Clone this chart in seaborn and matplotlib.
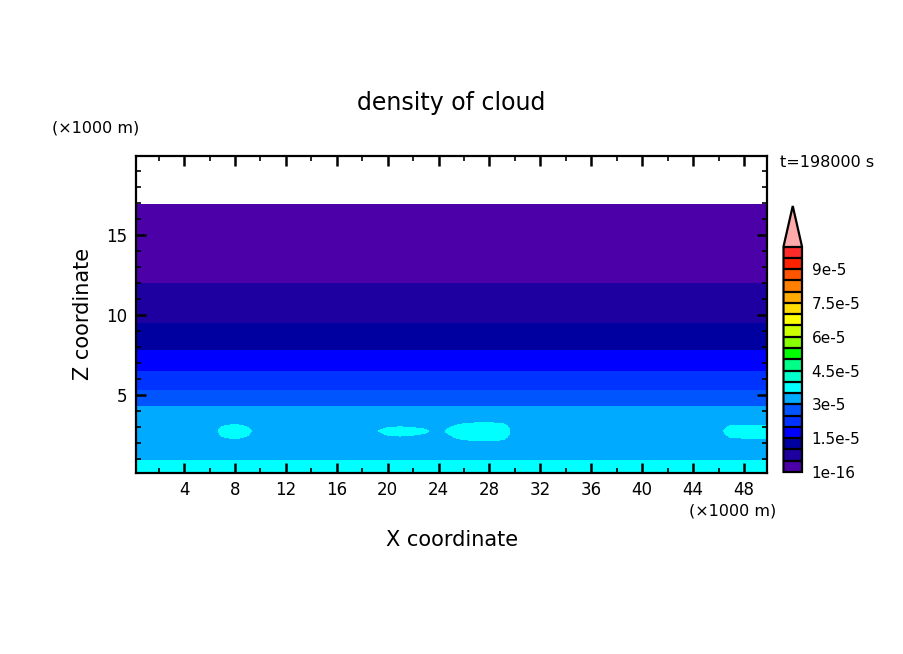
import numpy as np
import matplotlib
matplotlib.use("Agg")
import matplotlib.pyplot as plt
import seaborn as sns
from matplotlib.colors import ListedColormap, BoundaryNorm
from matplotlib.ticker import MultipleLocator

sns.set_style("white")
plt.rcParams['font.family'] = ['DejaVu Sans']
plt.rcParams['text.color'] = 'black'
plt.rcParams['axes.labelcolor'] = 'black'
plt.rcParams['xtick.color'] = 'black'
plt.rcParams['ytick.color'] = 'black'
plt.rcParams['axes.axisbelow'] = False

# ---------------- data (density, units of 1e-5) ----------------
x_nodes = np.arange(0, 51)  # km
# x-varying values at z = 2.75 km (cloud-rich layer)
rho_mid = [3.42, 3.42, 3.42, 3.42, 3.42, 3.42, 3.42, 3.54, 3.59, 3.53,
           3.42, 3.42, 3.42, 3.42, 3.42, 3.42, 3.42, 3.42, 3.42, 3.49,
           3.525, 3.535, 3.525, 3.51, 3.47, 3.53, 3.62, 3.69, 3.70, 3.63,
           3.42, 3.42, 3.42, 3.42, 3.42, 3.42, 3.42, 3.42, 3.42, 3.42,
           3.42, 3.42, 3.42, 3.42, 3.42, 3.42, 3.46, 3.56, 3.57, 3.57,
           3.57]
z_nodes = [0.15, 0.9, 2.0, 2.75, 3.4, 4.3, 5.3, 6.5, 7.8, 9.5, 12.0, 16.9, 19.95]
rho_profile = [3.75, 3.5, 3.45, 3.42, 3.45, 3.0, 2.5, 2.0, 1.5, 1.0, 0.5, 0.0, 0.0]
mid_index = 3

levels = [1e-16] + [5e-6 * k for k in range(1, 21)]
tick_values = [1e-16, 1.5e-5, 3e-5, 4.5e-5, 6e-5, 7.5e-5, 9e-5]
tick_labels = ["1e-16", "1.5e-5", "3e-5", "4.5e-5", "6e-5", "7.5e-5", "9e-5"]
colors = ["#4B00A8", "#1E00A0", "#0000A0", "#0000FF", "#0033FF", "#0055FF",
          "#00AAFF", "#00FFFF", "#00FFCC", "#00FF88", "#00FF00", "#88FF00",
          "#CCFF00", "#FFFF00", "#FFDD00", "#FFAA00", "#FF8000", "#FF5500",
          "#FF2200", "#FF2A2A"]
over_color = "#FFAAAA"

# ---------------- build field ----------------
coarse = np.array([[v] * len(x_nodes) for v in rho_profile], dtype=float)
coarse[mid_index, :] = rho_mid
xf = np.linspace(0.2, 49.85, 700)
zf = np.linspace(0.15, 19.95, 700)
rows = np.array([np.interp(xf, x_nodes, r) for r in coarse])
field = np.array([np.interp(zf, z_nodes, rows[:, j]) for j in range(len(xf))]).T * 1e-5

# ---------------- figure ----------------
W, H = 904, 654
fig = plt.figure(figsize=(W / 100, H / 100), dpi=100)
L, R, T, B = 135.7, 767.5, 156.0, 472.7
ax = fig.add_axes([L / W, 1 - B / H, (R - L) / W, (B - T) / H])

cmap = ListedColormap(colors).with_extremes(over=over_color)
norm = BoundaryNorm(levels, ncolors=len(colors))
cs = ax.contourf(xf, zf, field, levels=levels, cmap=cmap, norm=norm, extend='max')

ax.set_axisbelow(False)
ax.set_xlim(0.2, 49.85)
ax.set_ylim(0.15, 19.95)
ax.xaxis.set_major_locator(MultipleLocator(4))
ax.xaxis.set_minor_locator(MultipleLocator(2))
ax.yaxis.set_major_locator(MultipleLocator(5))
ax.yaxis.set_minor_locator(MultipleLocator(1))
ax.tick_params(which='both', direction='in', top=True, right=True, bottom=True, left=True,
               colors='black')
ax.tick_params(which='major', length=7, width=1.8, labelsize=12, pad=6)
ax.tick_params(which='minor', length=3.8, width=1.2)
for s in ax.spines.values():
    s.set_linewidth(1.6)
    s.set_color('black')
    s.set_zorder(5)

ax.set_xlabel("X coordinate", fontsize=15, color='black')
ax.xaxis.set_label_coords(0.5, -0.2125)
ax.xaxis.label.set_va('center')
ax.set_ylabel("Z coordinate", fontsize=15, color='black')
ax.yaxis.set_label_coords(-0.0834, 0.5)
ax.yaxis.label.set_va('center')
ax.yaxis.label.set_ha('center')

ax.text(0.5, 1.1674, "density of cloud", transform=ax.transAxes, ha='center', va='center',
        fontsize=17, color='black')
ax.text(-0.0628, 1.0884, "(×1000 m)", transform=ax.transAxes, ha='center', va='center',
        fontsize=11.5, color='black')
ax.text(0.9446, -0.121, "(×1000 m)", transform=ax.transAxes, ha='center', va='center',
        fontsize=11.5, color='black')
ax.text(1.0942, 0.981, "t=198000 s", transform=ax.transAxes, ha='center', va='center',
        fontsize=11.5, color='black')

# colorbar
cb_l, cb_r, cb_t, cb_b = 783.5, 802.0, 206.0, 472.0
cax = fig.add_axes([cb_l / W, 1 - cb_b / H, (cb_r - cb_l) / W, (cb_b - cb_t) / H])
cb = fig.colorbar(cs, cax=cax, extend='max', extendfrac=0.18, drawedges=True,
                  ticks=tick_values)
cb.ax.minorticks_off()
cb.ax.set_yticks(tick_values)
cb.ax.set_yticklabels(tick_labels)
cb.ax.tick_params(which='both', length=0, labelsize=11, pad=7, colors='black')
cb.outline.set_linewidth(1.6)
cb.outline.set_edgecolor('black')
cb.dividers.set_color('black')
cb.dividers.set_linewidth(1.6)

fig.savefig("out.png", dpi=100)
